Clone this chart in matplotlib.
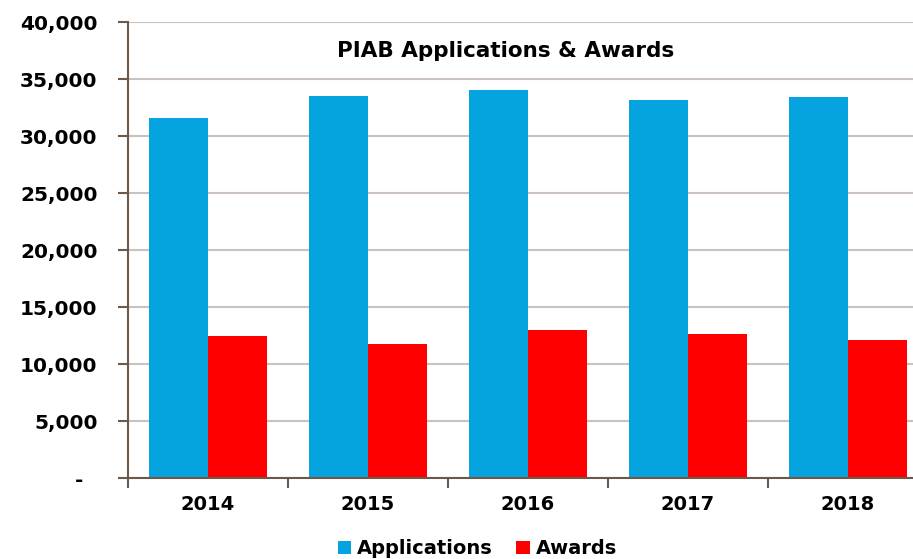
import matplotlib
matplotlib.use('Agg')
import matplotlib.pyplot as plt
import numpy as np

years = ['2014', '2015', '2016', '2017', '2018']
applications = [31550, 33550, 34030, 33150, 33400]
awards = [12450, 11750, 12980, 12650, 12100]

blue = '#05A3E0'
red = '#FF0000'
brown = '#6E5848'

plt.rcParams['font.family'] = ['DejaVu Sans']
plt.rcParams['font.weight'] = 'bold'

fig = plt.figure(figsize=(9.13, 5.59), dpi=100)
ax = fig.add_axes([0.1402, 0.1449, 0.8762, 0.8157])

x = np.arange(len(years))
w = 0.37
ax.bar(x - w / 2, applications, w, color=blue, label='Applications', zorder=3)
ax.bar(x + w / 2, awards, w, color=red, label='Awards', zorder=3)

ax.set_xlim(-0.5, len(years) - 0.5)
ax.set_ylim(0, 40000)
yt = np.arange(0, 40001, 5000)
ax.set_yticks(yt)
# accounting style: zero shown as a dash with padding
ax.set_yticklabels(['-  ' if v == 0 else '{:,}'.format(v) for v in yt], fontsize=14.5, fontweight='bold')
ax.set_xticks(x)
ax.set_xticklabels(years, fontsize=14, fontweight='bold')
ax.set_xticks(np.arange(-0.5, len(years)), minor=True)
ax.tick_params(axis='x', which='major', length=0, pad=12)
ax.tick_params(axis='x', which='minor', length=7, width=1.5, color=brown, direction='out')
ax.tick_params(axis='y', length=7, width=1.5, color=brown, direction='out', pad=15)

ax.grid(axis='y', color='#C9C2BE', linewidth=1.5, zorder=0)
for s in ['top', 'right']:
    ax.spines[s].set_visible(False)
for s in ['left', 'bottom']:
    ax.spines[s].set_color(brown)
    ax.spines[s].set_linewidth(1.5)
    ax.spines[s].set_zorder(4)

ax.text(0.4725, 0.958, 'PIAB Applications & Awards', transform=ax.transAxes,
        ha='center', va='top', fontsize=15.5, fontweight='bold')

fig.legend(loc='center', bbox_to_anchor=(0.523, 0.018), ncol=2, frameon=False,
           fontsize=14, handlelength=0.7, handleheight=0.7, handletextpad=0.3,
           columnspacing=1.2)

fig.savefig('out.png', dpi=100)
